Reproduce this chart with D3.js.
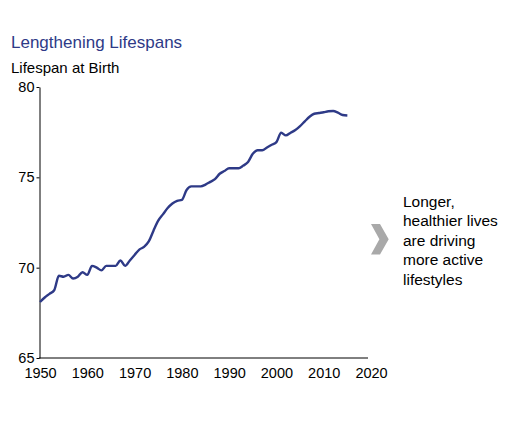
<!DOCTYPE html>
<html>
<head>
<meta charset="utf-8">
<script src="https://cdn.jsdelivr.net/npm/d3@7"></script>
<style>
  body { margin: 0; background: #fff; }
  text { font-family: "Liberation Sans", Arial, sans-serif; }
</style>
</head>
<body>
<div id="container"></div>
<script>
const width = 514;
const height = 432;

const years = d3.range(1950, 2016);
const lifespan = [
  68.1, 68.35, 68.55, 68.75, 69.55, 69.5, 69.6, 69.4, 69.5, 69.75,
  69.6, 70.1, 70.0, 69.85, 70.1, 70.1, 70.1, 70.4, 70.1, 70.4,
  70.7, 71.0, 71.15, 71.45, 72.05, 72.6, 72.95, 73.3, 73.55, 73.7,
  73.75, 74.3, 74.5, 74.5, 74.5, 74.6, 74.75, 74.9, 75.2, 75.35,
  75.5, 75.5, 75.5, 75.65, 75.85, 76.3, 76.5, 76.5, 76.65, 76.8,
  76.95, 77.47, 77.32, 77.47, 77.62, 77.84, 78.1, 78.35, 78.52, 78.56,
  78.6, 78.66, 78.67, 78.58, 78.45, 78.42
];
const xTicks = [1950, 1960, 1970, 1980, 1990, 2000, 2010, 2020];
const yTicks = [65, 70, 75, 80];
const noteLines = ["Longer,", "healthier lives", "are driving", "more active", "lifestyles"];

const navy = "#2e3a87";

const svg = d3.select("#container")
    .append("svg")
    .attr("width", width)
    .attr("height", height)
    .attr("viewBox", [0, 0, width, height]);

const x = d3.scaleLinear()
    .domain([1950, 2020])
    .range([40, 371]);

const y = d3.scaleLinear()
    .domain([65, 80])
    .range([358, 87]);

// title + axis caption
svg.append("text")
    .attr("x", 11)
    .attr("y", 48)
    .attr("fill", navy)
    .attr("font-size", 17)
    .text("Lengthening Lifespans");

svg.append("text")
    .attr("x", 11)
    .attr("y", 73)
    .attr("fill", "#000")
    .attr("font-size", 15)
    .text("Lifespan at Birth");

// y axis
const yAxis = svg.append("g")
    .attr("transform", `translate(${x(1950) - 0.5},0)`)
    .call(d3.axisLeft(y)
        .tickValues(yTicks)
        .tickSize(3)
        .tickSizeOuter(0)
        .tickPadding(2)
        .tickFormat(d => d));
yAxis.selectAll("text").attr("font-size", 14.5).attr("fill", "#000").attr("font-family", null);
yAxis.selectAll("line, path").attr("stroke", "#000");

// x axis
const xAxis = svg.append("g")
    .attr("transform", `translate(0,${y(65)})`)
    .call(d3.axisBottom(x)
        .tickValues(xTicks)
        .tickSize(0)
        .tickPadding(10)
        .tickFormat(d => d));
xAxis.selectAll("text").attr("font-size", 14.5).attr("fill", "#000").attr("font-family", null);
xAxis.select(".domain").attr("stroke", "#000").attr("d", `M${x(1950) - 1},0H${x(2020) - 3}`);

// the series
const line = d3.line()
    .x((d, i) => x(years[i]))
    .y(d => y(d))
    .curve(d3.curveMonotoneX);

svg.append("path")
    .datum(lifespan)
    .attr("fill", "none")
    .attr("stroke", navy)
    .attr("stroke-width", 2.4)
    .attr("stroke-linejoin", "round")
    .attr("d", line);

// side note with chevron
svg.append("path")
    .attr("d", "M371,224H380L388.7,239.2L380,254.4H371L379.4,239.2Z")
    .attr("fill", "#a9a9a9");

svg.append("text")
    .attr("x", 403)
    .attr("y", 206.5)
    .attr("font-size", 15.5)
    .attr("fill", "#000")
    .selectAll("tspan")
    .data(noteLines)
    .join("tspan")
    .attr("x", 403)
    .attr("dy", (d, i) => i === 0 ? 0 : 19.6)
    .text(d => d);
</script>
</body>
</html>
